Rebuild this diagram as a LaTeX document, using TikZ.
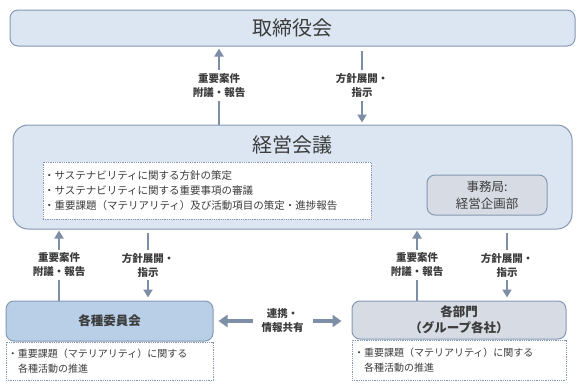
\documentclass[tikz,border=0pt]{standalone}
\usepackage{fontspec}
\setmainfont{Noto Sans CJK JP}
\usepackage{tikz}
\usetikzlibrary{arrows.meta,positioning,calc}
\usepackage{xcolor}
\definecolor{boardblue}{HTML}{DCE6F2}
\definecolor{framegrey}{HTML}{8498B2}
\definecolor{committeeblue}{HTML}{B9CFE8}
\definecolor{officegrey}{HTML}{D7DCE4}
\definecolor{flowgrey}{HTML}{7D8EA6}
\definecolor{textgrey}{HTML}{3C3C3C}

\begin{document}
\begin{tikzpicture}[x=1pt, y=-1pt,
    orgbox/.style={rectangle, draw=framegrey, fill=boardblue, line width=1pt,
        rounded corners=8pt, inner sep=0pt, text=textgrey},
    notebox/.style={rectangle, draw=framegrey, densely dotted, fill=white,
        line width=0.8pt, inner sep=0pt, align=left, text=textgrey},
    flow/.style={line width=2.8pt, draw=flowgrey, -{Triangle[width=9pt,length=8pt]}},
    flowlabel/.style={fill=white, align=center, text=textgrey,
        font=\bfseries\fontsize{10.5}{14}\selectfont, inner xsep=1pt, inner ysep=3pt}
]
\useasboundingbox (0,0) rectangle (583,388);
\node[orgbox, minimum width=565pt, minimum height=36pt,
      font=\fontsize{20}{22}\selectfont] (board) at (292.5,28) {取締役会};
\node[orgbox, rounded corners=15pt, minimum width=559pt, minimum height=104pt] (mgmt) at (292.5,177) {};
\node[text=textgrey, font=\fontsize{20}{22}\selectfont] (mgmttitle) at (292.5,145) {経営会議};
\node[notebox, minimum width=328pt, minimum height=57pt, text width=326pt,
      font=\fontsize{10.5}{15}\selectfont] (policy) at (207,190.5) {
    ・サステナビリティに関する方針の策定\\
    ・サステナビリティに関する重要事項の審議\\
    ・重要課題（マテリアリティ）及び活動項目の策定・進捗報告};
\node[orgbox, fill=officegrey, minimum width=120pt, minimum height=40pt, align=center,
      font=\fontsize{12.5}{17}\selectfont] (office) at (487,195) {事務局:\\経営企画部};
\node[orgbox, fill=committeeblue, minimum width=207pt, minimum height=40pt,
      font=\bfseries\fontsize{12.5}{15}\selectfont] (committee) at (109.5,321) {各種委員会};
\node[notebox, below=0pt of committee, minimum width=207pt, minimum height=38pt,
      text width=203pt, font=\fontsize{10}{15}\selectfont] (commnote) {
    ・重要課題（マテリアリティ）に関する\\\hspace*{1em}各種活動の推進};
\node[orgbox, fill=officegrey, minimum width=214pt, minimum height=38pt, align=center,
      font=\bfseries\fontsize{12.5}{16}\selectfont] (division) at (459,320) {各部門\\（グループ各社）};
\node[notebox, below=0pt of division, minimum width=214pt, minimum height=40pt,
      text width=210pt, font=\fontsize{10}{15}\selectfont] (divnote) {
    ・重要課題（マテリアリティ）に関する\\\hspace*{1em}各種活動の推進};
\coordinate (boardup) at (219,0);
\coordinate (boarddown) at (362,0);
\coordinate (commup) at (59,0);
\coordinate (commdown) at (148,0);
\coordinate (divup) at (417,0);
\coordinate (divdown) at (507,0);
\draw[flow, shorten >=2pt] (mgmt.north -| boardup) -- node[flowlabel]{重要案件\\附議・報告} (board.south -| boardup);
\draw[flow, shorten <=4pt, shorten >=2pt] (board.south -| boarddown) -- node[flowlabel]{方針展開・\\指示} (mgmt.north -| boarddown);
\draw[flow, shorten >=1pt] (committee.north -| commup) -- node[flowlabel]{重要案件\\附議・報告} (mgmt.south -| commup);
\draw[flow, shorten <=3pt, shorten >=3pt] (mgmt.south -| commdown) -- node[flowlabel]{方針展開・\\指示} (committee.north -| commdown);
\draw[flow, shorten >=1pt] (division.north -| divup) -- node[flowlabel]{重要案件\\附議・報告} (mgmt.south -| divup);
\draw[flow, shorten <=3pt, shorten >=3pt] (mgmt.south -| divdown) -- node[flowlabel]{方針展開・\\指示} (division.north -| divdown);
\draw[flow, line width=3.5pt, {Triangle[width=12pt,length=9pt]}-{Triangle[width=12pt,length=9pt]},
      shorten <=5pt, shorten >=10pt] (committee.east) -- node[flowlabel, inner xsep=9pt]{連携・\\情報共有} (division.west |- committee.east);
\end{tikzpicture}
\end{document}
